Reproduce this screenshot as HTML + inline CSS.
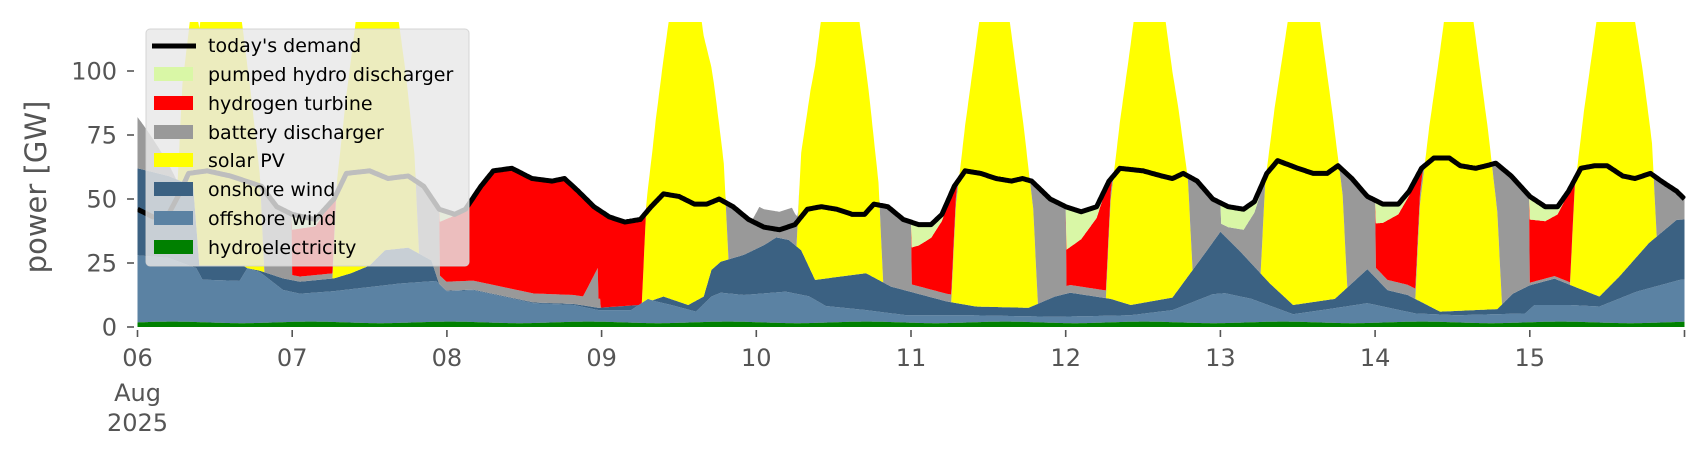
<!DOCTYPE html>
<html><head><meta charset="utf-8">
<style>
html,body{margin:0;padding:0;background:#fff;}
body{width:1706px;height:460px;overflow:hidden;font-family:"DejaVu Sans","Liberation Sans",sans-serif;}
</style></head>
<body>
<svg id="s" width="1706" height="460" xmlns="http://www.w3.org/2000/svg" font-family="DejaVu Sans, Liberation Sans, sans-serif">
<defs><clipPath id="c"><rect x="137.5" y="22" width="1548" height="306"/></clipPath></defs>
<g id="fills" clip-path="url(#c)"></g>
<g id="dem" clip-path="url(#c)"></g>
<g id="axes" fill="#555" font-size="24"></g>
<text x="0" y="0" transform="translate(46,187) rotate(-90)" text-anchor="middle" font-size="29" fill="#555">power [GW]</text>
<g id="legend">
<rect x="146" y="29" width="323" height="237" rx="4" fill="rgba(232,232,232,0.82)" stroke="rgba(210,210,210,0.9)" stroke-width="1"/>
<line x1="152" y1="46" x2="196" y2="46" stroke="#000" stroke-width="5"/>
<rect x="154" y="67" width="39" height="14" fill="#d9f7a6"/>
<rect x="154" y="96" width="39" height="14" fill="#ff0000"/>
<rect x="154" y="125" width="39" height="14" fill="#999999"/>
<rect x="154" y="153" width="39" height="14" fill="#ffff00"/>
<rect x="154" y="182" width="39" height="14" fill="#3b6182"/>
<rect x="154" y="211" width="39" height="14" fill="#5b82a3"/>
<rect x="154" y="240" width="39" height="14" fill="#008000"/>
<g font-size="19" fill="#000">
<text x="208" y="52">today's demand</text>
<text x="208" y="81">pumped hydro discharger</text>
<text x="208" y="110">hydrogen turbine</text>
<text x="208" y="139">battery discharger</text>
<text x="208" y="167">solar PV</text>
<text x="208" y="196">onshore wind</text>
<text x="208" y="225">offshore wind</text>
<text x="208" y="254">hydroelectricity</text>
</g>
</g>
</svg>
<script>
(function(){
var NS="http://www.w3.org/2000/svg";
function X(t){return 137.5+t*154.7;}
function Y(v){return 327-v*2.56;}
function P(a){var r=[];for(var i=0;i<a.length;i+=2)r.push([a[i],a[i+1]]);return r;}
function interp(p,t){if(t<=p[0][0])return p[0][1];for(var i=1;i<p.length;i++){if(t<=p[i][0]){var a=p[i-1],b=p[i];return a[1]+(b[1]-a[1])*(t-a[0])/(b[0]-a[0]);}}return p[p.length-1][1];}
var dem=P([0,46,0.1,43,0.2,44,0.27,52,0.33,60,0.45,61,0.6,59,0.7,57,0.8,55,0.9,47,1.0,44,1.15,42,1.27,50,1.35,60,1.5,61,1.62,58,1.75,59,1.85,55,1.95,46,2.05,44,2.12,46,2.22,55,2.3,61,2.42,62,2.55,58,2.68,57,2.76,58,2.85,53,2.95,47,3.05,43,3.15,41,3.25,42,3.32,47,3.4,52,3.5,51,3.6,48,3.68,48,3.76,50,3.85,47,3.95,42,4.05,39,4.15,38,4.25,40,4.33,46,4.42,47,4.52,46,4.62,44,4.7,44,4.76,48,4.85,47,4.95,42,5.05,40,5.13,40,5.2,44,5.28,55,5.35,61,5.45,60,5.55,58,5.65,57,5.72,58,5.78,57,5.9,50,6.0,47,6.1,45,6.2,47,6.28,57,6.35,62,6.5,61,6.62,59,6.69,58,6.76,60,6.85,57,6.95,50,7.05,47,7.15,46,7.22,49,7.3,60,7.37,65,7.5,62,7.6,60,7.69,60,7.76,63,7.85,58,7.95,51,8.05,48,8.15,48,8.22,53,8.3,62,8.38,66,8.48,66,8.55,63,8.65,62,8.72,63,8.78,64,8.88,59,9.0,51,9.1,47,9.18,47,9.25,53,9.33,62,9.42,63,9.5,63,9.6,59,9.68,58,9.78,60,9.85,57,9.95,53,10,50]);
var off=P([0,28,0.2,27,0.38,23,0.42,18.5,0.66,18,0.71,23,0.79,21.5,0.94,14.5,1.05,13,1.27,14,1.7,17,1.93,18,2.0,14,2.17,14.4,2.56,9.3,2.82,8.6,2.98,6.6,3.19,6.6,3.3,11,3.35,10,3.45,8.6,3.61,6,3.71,11.9,3.77,13.4,3.92,12.5,4.19,13.8,4.34,12,4.45,8.2,4.71,6.6,4.97,4.6,5.36,4.6,5.93,4,6.2,4.3,6.42,4.6,6.69,6.6,6.95,12.8,7.03,13.2,7.2,11,7.47,5,7.7,7,7.95,9.3,8.26,5.3,8.53,4.6,8.97,5.3,9.03,8.6,9.26,8.6,9.45,8,9.69,13.8,9.97,18.4,10,18.5]);
var on=P([0,62,0.2,59,0.36,55,0.4,24,0.68,24,0.71,23,0.79,22,0.94,19,1.05,17.7,1.27,19,1.38,21,1.5,24,1.6,30,1.75,31,1.9,26,1.96,15,2.0,14.2,2.17,14.6,2.56,9.6,2.82,9,2.98,7.5,3.24,8.6,3.4,11.9,3.56,8.6,3.66,11.9,3.71,22.3,3.77,25.5,3.92,28.2,4.05,32,4.13,35,4.21,34,4.29,30,4.38,18.4,4.58,20,4.71,21,4.87,15.8,5.23,10,5.42,8,5.76,7.5,5.93,11.9,6.03,13.4,6.29,11,6.42,8.6,6.69,11.5,6.9,28.8,7.0,37.2,7.13,29.4,7.32,17,7.47,8.6,7.74,11,7.95,22.6,8.08,14.4,8.21,12.5,8.42,6,8.79,7,8.89,13,9.0,16.3,9.16,18.9,9.32,15,9.45,11.9,9.58,19.8,9.77,32.8,9.95,41.9,10,42]);
var solShape=P([0,260,0.08,120,0.19,70,0.25,38,0.28,0,1,0]);
function solar(t){var n=Math.floor(t),f=t-n;if(n===2||n>9)return 0;return interp(solShape,Math.abs(f-0.54));}
var night=['B','H','H','H','B','H','H','P','H','H'];
var pmx=[0,6,0,0,0,10,17,8,9,9];
var gs=[0,2,3.5,0,0,3,3,0,4,1];
var layers={hy:[],of:[],on:[],so:[],ba:[],h2:[],pu:[]};
var ts=[];
for(var t=0;t<=10.0001;t+=0.005){
 ts.push(t);
 var hy=1.8+0.3*Math.sin(t*7), o=Math.max(hy+0.3,interp(off,t)), w=Math.max(o,interp(on,t));
 var s=w+solar(t), d=interp(dem,t), gap=Math.max(0,d-s);
 var n=Math.floor(t); if(n>9)n=9; var f=t-n;
 var b=0,h=0,p=0;
 var reg;
 if(t>=1.95&&t<3.4) reg='H2';
 else if(f<0.45) reg=night[n];
 else reg='B';
 if(reg==='B'){b=gap;
   if(t<0.25) b=Math.max(b,(82-s)*(1-t/0.25)+gap*(t/0.25));
   if(t>3.97&&t<4.28){b=gap+7*Math.min(1,(t-3.97)/0.05,(4.28-t)/0.05);}
 } else if(reg==='P'){p=Math.min(gap,pmx[n]*Math.max(0,1-Math.max(0,f-0.15)/0.15));b=gap-p;}
 else if(reg==='H'){var g=Math.min(gap,gs[n]);var pm=pmx[n]*Math.max(0,1-f/0.27);p=Math.min(gap-g,pm);h=gap-g-p;b=g;}
 else {
   var g2=(t<2.99)?3.5:0; if(t>2.88&&t<2.975)g2+=12*(t-2.88)/0.095;
   g2=Math.min(gap,g2); var pm2=(t<2.06)?5*(1-(t-1.95)/0.11):0;
   p=Math.min(gap-g2,Math.max(0,pm2)); h=gap-g2-p; b=g2;}
 layers.hy.push([0,hy]);layers.of.push([hy,o]);layers.on.push([o,w]);layers.so.push([w,s]);
 layers.ba.push([s,s+b]);layers.h2.push([s+b,s+b+h]);layers.pu.push([s+b+h,s+b+h+p]);
}
var cols={hy:'#008000',of:'#5b82a3',on:'#3b6182',so:'#ffff00',ba:'#999999',h2:'#ff0000',pu:'#d9f7a6'};
var g=document.getElementById('fills');
['of','on','so','ba','h2','pu','hy'].forEach(function(k){
 var L=layers[k],up=[],dn=[];
 for(var i=0;i<ts.length;i++){up.push(X(ts[i]).toFixed(1)+','+Y(Math.min(L[i][1],125)).toFixed(1));}
 for(var i=ts.length-1;i>=0;i--){dn.push(X(ts[i]).toFixed(1)+','+Y(Math.min(L[i][0],125)).toFixed(1));}
 var pe=document.createElementNS(NS,'polygon');pe.setAttribute('points',up.concat(dn).join(' '));pe.setAttribute('fill',cols[k]);g.appendChild(pe);
});
var dp=[];for(var t=0;t<=10.0001;t+=0.01){dp.push(X(t).toFixed(1)+','+Y(interp(dem,t)).toFixed(1));}
var pl=document.createElementNS(NS,'polyline');pl.setAttribute('points',dp.join(' '));pl.setAttribute('fill','none');pl.setAttribute('stroke','#000');pl.setAttribute('stroke-width','5');pl.setAttribute('stroke-linejoin','round');
document.getElementById('dem').appendChild(pl);
var ax=document.getElementById('axes');
function el(tag,attrs,txt){var e=document.createElementNS(NS,tag);for(var a in attrs)e.setAttribute(a,attrs[a]);if(txt!==undefined)e.textContent=txt;ax.appendChild(e);return e;}
[0,25,50,75,100].forEach(function(v){var y=Y(v);el('line',{x1:127,x2:134,y1:y,y2:y,stroke:'#555','stroke-width':1.6});el('text',{x:117,y:y+8.5,'text-anchor':'end'},String(v));});
var days=['06','07','08','09','10','11','12','13','14','15'];
for(var i=0;i<=10;i++){var x=X(i);el('line',{x1:x,x2:x,y1:330,y2:337,stroke:'#555','stroke-width':1.6});if(i<10)el('text',{x:x,y:366,'text-anchor':'middle'},days[i]);}
el('text',{x:X(0),y:401,'text-anchor':'middle'},'Aug');
el('text',{x:X(0),y:431,'text-anchor':'middle'},'2025');
})();
</script>
</body></html>
